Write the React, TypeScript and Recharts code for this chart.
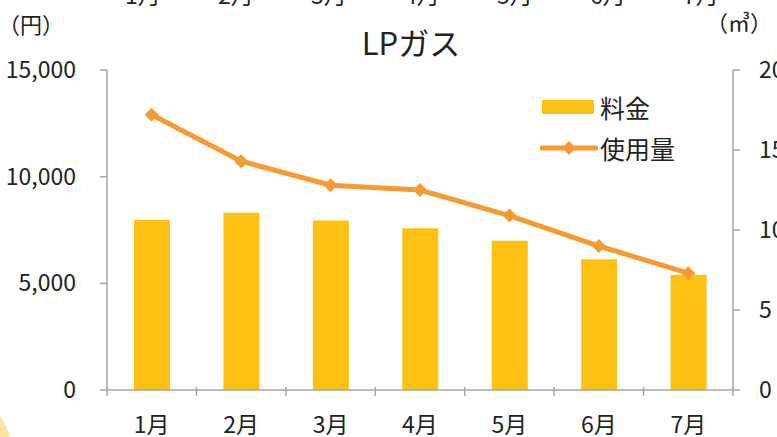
import {
  Bar,
  ComposedChart,
  Legend,
  Line,
  XAxis,
  YAxis,
} from "recharts";

const months = ["1月", "2月", "3月", "4月", "5月", "6月", "7月"];
const charges = [7970, 8310, 7950, 7580, 7000, 6130, 5400];
const usage = [17.2, 14.3, 12.8, 12.5, 10.9, 9.0, 7.3];
const yenTicks = [0, 5000, 10000, 15000];
const m3Ticks = [0, 5, 10, 15, 20];

const data = months.map((month, i) => ({
  month,
  charge: charges[i],
  usage: usage[i],
}));

const FONT = "'Noto Sans CJK JP', 'Noto Sans', sans-serif";
const BAR_COLOR = "#fdc114";
const LINE_COLOR = "#f79a32";
const AXIS_COLOR = "#a6a6a6";
const TEXT_COLOR = "#222222";

function Diamond(props: any) {
  const { cx, cy, index } = props;
  if (cx == null || cy == null) return null;
  const r = 7;
  return (
    <path
      key={`d-${index}`}
      d={`M${cx},${cy - r} L${cx + r},${cy} L${cx},${cy + r} L${cx - r},${cy} Z`}
      fill={LINE_COLOR}
    />
  );
}

function MonthTick(props: any) {
  const { x, y, payload, index, width, visibleTicksCount } = props;
  const half =
    payload && payload.offset ? payload.offset : width / visibleTicksCount / 2;
  const top = y - 10;
  return (
    <g>
      <line x1={x - half} x2={x - half} y1={top - 1} y2={top + 8} stroke={AXIS_COLOR} strokeWidth={1.5} />
      {index === visibleTicksCount - 1 && (
        <line x1={x + half} x2={x + half} y1={top - 1} y2={top + 8} stroke={AXIS_COLOR} strokeWidth={1.5} />
      )}
      <text
        x={x}
        y={top + 45}
        textAnchor="middle"
        fontSize={23}
        fontFamily={FONT}
        fill={TEXT_COLOR}
      >
        {payload.value}
      </text>
    </g>
  );
}

function ChartLegend() {
  return (
    <div style={{ fontFamily: FONT, fontSize: 25, color: TEXT_COLOR, textAlign: "left" }}>
      <div style={{ display: "flex", alignItems: "center", height: 41 }}>
        <svg width={58} height={20}>
          <rect x={2} y={3} width={52} height={14} fill={BAR_COLOR} />
        </svg>
        <span style={{ marginLeft: 2 }}>料金</span>
      </div>
      <div style={{ display: "flex", alignItems: "center", height: 41 }}>
        <svg width={58} height={20}>
          <line x1={2} x2={56} y1={10} y2={10} stroke={LINE_COLOR} strokeWidth={5} strokeLinecap="round" />
          <path d="M29,3 L36,10 L29,17 L22,10 Z" fill={LINE_COLOR} />
        </svg>
        <span style={{ marginLeft: 2 }}>使用量</span>
      </div>
    </div>
  );
}

export default function App() {
  return (
    <div
      style={{
        position: "absolute",
        top: 0,
        left: 0,
        width: 777,
        height: 437,
        overflow: "hidden",
        background: "#ffffff",
        fontFamily: FONT,
      }}
    >
      <div
        style={{
          position: "absolute",
          left: -70 - 83,
          top: 460 - 83,
          width: 166,
          height: 166,
          borderRadius: "50%",
          background: "#fde3a0",
        }}
      />
      {months.map((m, i) => (
        <div
          key={m}
          style={{
            position: "absolute",
            top: -17,
            left: 125 + i * 93,
            fontSize: 23,
            lineHeight: "23px",
            color: TEXT_COLOR,
          }}
        >
          {m}
        </div>
      ))}
      <div style={{ position: "absolute", left: -2, top: 7, fontSize: 22, color: TEXT_COLOR }}>
        （円）
      </div>
      <div style={{ position: "absolute", left: 706, top: 5, fontSize: 22, color: TEXT_COLOR }}>
        （㎥）
      </div>
      <div
        style={{
          position: "absolute",
          left: 0,
          width: 822,
          top: 19,
          textAlign: "center",
          fontSize: 31,
          color: TEXT_COLOR,
        }}
      >
        LPガス
      </div>
      <div style={{ position: "absolute", top: 0, left: 0 }}>
        <ComposedChart
          width={777}
          height={437}
          data={data}
          margin={{ top: 70, right: 0, bottom: 0, left: 0 }}
          barSize={36}
        >
          <XAxis
            dataKey="month"
            height={47}
            axisLine={{ stroke: AXIS_COLOR, strokeWidth: 1.5 }}
            tickLine={false}
            tick={<MonthTick />}
            interval={0}
          />
          <YAxis
            yAxisId="yen"
            orientation="left"
            width={107}
            domain={[0, 15000]}
            ticks={yenTicks}
            tickFormatter={(v: number) => v.toLocaleString("en-US")}
            axisLine={{ stroke: AXIS_COLOR, strokeWidth: 1.5 }}
            tickLine={{ stroke: AXIS_COLOR, strokeWidth: 1.5 }}
            tickSize={7}
            tickMargin={24}
            tick={{ fontSize: 23, fill: TEXT_COLOR, fontFamily: FONT }}
          />
          <YAxis
            yAxisId="m3"
            orientation="right"
            width={44}
            domain={[0, 20]}
            ticks={m3Ticks}
            axisLine={{ stroke: AXIS_COLOR, strokeWidth: 1.5 }}
            tickLine={{ stroke: AXIS_COLOR, strokeWidth: 1.5 }}
            tickSize={7}
            tickMargin={19}
            tick={{ fontSize: 23, fill: TEXT_COLOR, fontFamily: FONT }}
          />
          <Legend
            layout="horizontal"
            verticalAlign="middle"
            align="center"
            wrapperStyle={{ top: 86, left: 540, width: 180 }}
            content={() => <ChartLegend />}
          />
          <Bar
            yAxisId="yen"
            dataKey="charge"
            name="料金"
            fill={BAR_COLOR}
            isAnimationActive={false}
          />
          <Line
            yAxisId="m3"
            dataKey="usage"
            name="使用量"
            type="linear"
            stroke={LINE_COLOR}
            strokeWidth={5}
            dot={(p: any) => <Diamond {...p} />}
            activeDot={false}
            isAnimationActive={false}
          />
        </ComposedChart>
      </div>
    </div>
  );
}
